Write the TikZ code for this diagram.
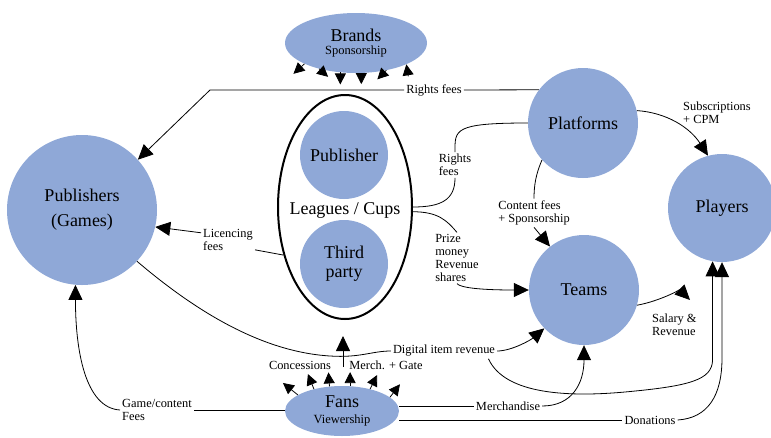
\documentclass[tikz,border=0pt]{standalone}
\usepackage{fontspec}
\setmainfont{Liberation Serif}
\usetikzlibrary{arrows.meta,shapes.geometric,calc}
\definecolor{actorblue}{RGB}{143,168,215}
\newcommand{\bigtext}{\fontsize{18}{22}\selectfont}
\newcommand{\subtext}{\fontsize{12.5}{14}\selectfont}
\newcommand{\flowtext}{\fontsize{12.4}{12.8}\selectfont}

\begin{document}
\begin{tikzpicture}[x=1pt,y=-1pt,
  actor/.style={circle,fill=actorblue,inner sep=0pt,align=center,font=\bigtext},
  crowd/.style={ellipse,fill=actorblue,inner sep=0pt,align=center},
  league/.style={ellipse,draw,line width=2pt,inner sep=0pt},
  flow/.style={font=\flowtext,align=left,inner sep=2pt},
  link/.style={line width=0.8pt},
  arr/.style={-{Triangle[length=15pt,width=14pt]},line width=0.8pt},
  fanarr/.style={-{Triangle[length=11pt,width=11pt]},line width=0.8pt}
]
\useasboundingbox (0,0) rectangle (771,437);

% actors
\node[actor,minimum size=150pt] (publishers) at (82,210) {Publishers\\[3pt](Games)};
\node[league,minimum width=134pt,minimum height=224pt] (leagues) at (345,207) {};
\node[font=\bigtext] (cups) at (345,210) {Leagues / Cups};
\node[actor,minimum size=88pt] (publeague) at (344,155) {Publisher};
\node[actor,minimum size=88pt,font=\fontsize{18}{19}\selectfont] (thirdparty) at (344,264) {Third\\party};
\node[crowd,minimum width=142pt,minimum height=60pt,font=\fontsize{18}{13}\selectfont] (brands) at (356,43)
  {Brands\\{\subtext Sponsorship}};
\node[actor,minimum size=110pt] (platforms) at (583,123) {Platforms};
\node[actor,minimum size=108pt] (players) at (722,208) {Players};
\node[actor,minimum size=110pt] (teams) at (584,290) {Teams};
\node[crowd,minimum width=114pt,minimum height=50pt,font=\fontsize{18}{16}\selectfont] (fans) at (342,411)
  {Fans\\{\subtext Viewership}};

% flow labels
\node[flow] (rightstop) at (434,90) {Rights fees};
\node[flow] (rightsplat) at (455,165) {Rights\\fees};
\node[flow] (prize) at (457,258) {Prize\\money\\Revenue\\shares};
\node[flow] (contentfees) at (534,213) {Content fees\\+ Sponsorship};
\node[flow,anchor=west] (subs) at (681,113) {Subscriptions\\+ CPM};
\node[flow] (licencing) at (228,240) {Licencing\\fees};
\node[flow] (digital) at (444,351) {Digital item revenue};
\node[flow] (merch) at (508,406) {Merchandise};
\node[flow] (donations) at (650,420) {Donations};
\node[flow,anchor=west] (salary) at (650,325) {Salary \&\\Revenue};
\node[flow] (gamefees) at (157,410) {Game/content\\Fees};
\node[flow] (concessions) at (300,365) {Concessions};
\node[flow] (merchgate) at (386,365) {Merch. + Gate};

\coordinate (rightsbend) at (210,90);
\coordinate (gatefoot) at (343,367);
\coordinate (gatetip) at (343,336);
\coordinate (salarytip) at (690,300);

% money flows
\draw[link] (platforms.143) -- (rightstop.east);
\draw[arr] (rightstop.west) -- (rightsbend) -- (publishers.42);
\draw[link] (platforms.west) .. controls +(-75,0) and +(0,-22) .. (rightsplat.north);
\draw[link] (rightsplat.south) .. controls +(0,22) and +(28,0) .. (leagues.east);
\draw[link] (leagues.-4) .. controls +(25,0) and +(-10,-12) .. (prize.north);
\draw[arr] (prize.south) .. controls +(5,6) and +(-30,0) .. (teams.west);
\draw[link] (platforms.222) .. controls +(-6,14) and +(0,-14) .. (contentfees.north);
\draw[arr] (contentfees.south) -- (teams.128);
\draw[arr] (platforms.13) .. controls +(30,2) and +(-18,-28) .. (players.105);
\draw[link] (leagues.218) -- (licencing.-20);
\draw[arr] (licencing.165) -- (publishers.-13);
\draw[link] (publishers.-43) .. controls (200,315) and (265,352) .. (330,356)
  .. controls (360,358) and (372,351) .. (digital.west);
\draw[arr] (digital.east) .. controls +(14,0) and +(-14,12) .. (teams.224);
\draw[arr] (digital.-10) .. controls (505,395) and (570,397) .. (625,392)
  .. controls (690,386) and (712,380) .. (players.-100 |- 0,360) -- (players.-100);
\draw[link] (fans.east |- merch.west) -- (merch.west);
\draw[arr] (merch.east) .. controls +(30,0) and +(0,38) .. (teams.south);
\draw[link] (fans.east |- donations.west) -- (donations.west);
\draw[arr] (donations.east) .. controls +(30,-2) and +(0,38) .. (players.-90 |- 0,358) -- (players.-90);
\draw[link] (fans.west |- gamefees.east) -- (gamefees.east);
\draw[arr] (gamefees.west) .. controls +(-35,-2) and +(0,65) .. (publishers.-95);
\draw[arr] (teams.-16) .. controls +(22,-4) and +(-10,-10) .. (salarytip);
\draw[arr] (gatefoot) -- (gatetip);

% fan and sponsor ticks
\foreach \a/\dx/\dy in {160/-15/-12,142/-6/-15,117/-1/-14,72/0/-14,38/7/-14,16/10/-13}
  \draw[fanarr] (fans.\a) -- ++(\dx,\dy);
\foreach \a/\dx/\dy in {202/-11/10,215/9/8,242/0/12,280/0/11,318/-9/9}
  \draw[fanarr] (brands.\a) -- ++(\dx,\dy);
\draw[fanarr] (brands.-23) ++(2,12) -- (brands.-23);
\end{tikzpicture}
\end{document}
